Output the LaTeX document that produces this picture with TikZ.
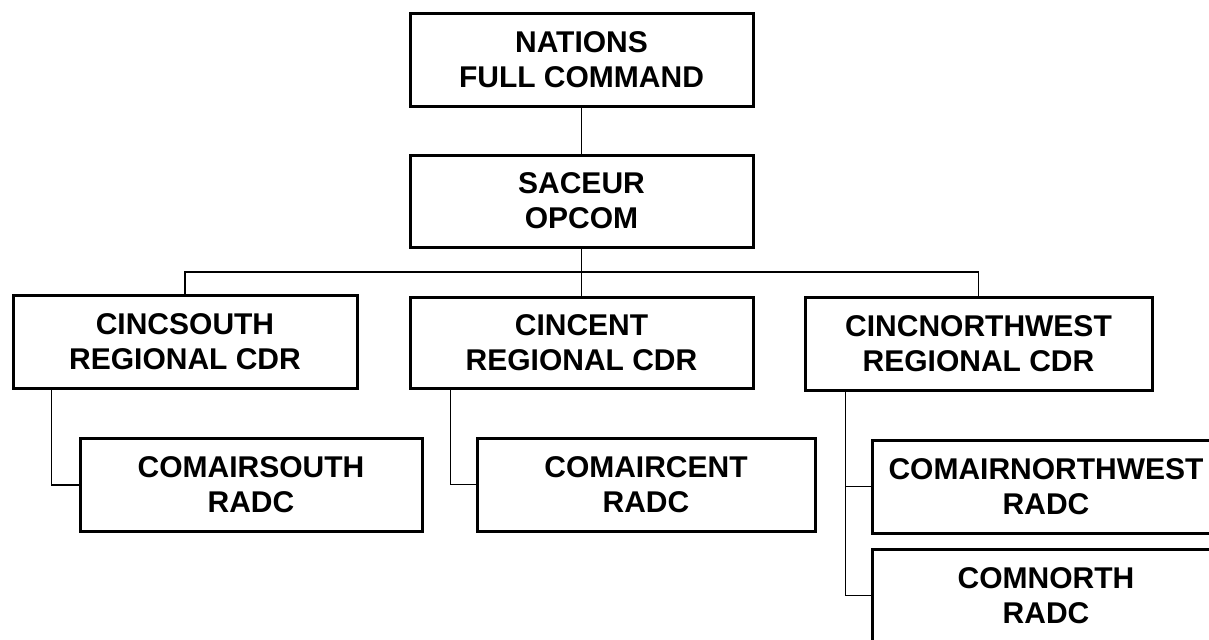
\documentclass[tikz,border=0pt]{standalone}
\usepackage{fontspec}
\setmainfont{Liberation Sans}
\begin{document}
\begin{tikzpicture}[x=0.5pt,y=-0.5pt,
  unit/.style={draw, line width=1.5pt, minimum height=46.5pt, align=center,
    inner sep=0pt, font=\fontsize{15pt}{17.5pt}\selectfont\bfseries},
  link/.style={line width=0.75pt}]
\fill[white] (0,0) rectangle (1209,639);
\useasboundingbox (0,0) rectangle (1209,639);
\clip (0,0) rectangle (1209,639);

% command levels
\node[unit, minimum width=171.5pt] (nat) at (581.5,60) {NATIONS\\FULL COMMAND};
\node[unit, minimum width=171.5pt, minimum height=46pt] (sac) at (581.5,201) {SACEUR\\OPCOM};

% regional commanders
\node[unit, minimum width=172pt] (cs) at (185,341.5) {CINCSOUTH\\REGIONAL CDR};
\node[unit, minimum width=171.5pt, minimum height=45.5pt] (cc) at (581.5,342.5) {CINCENT\\REGIONAL CDR};
\node[unit, minimum width=173.5pt] (cnw) at (978.5,343.5) {CINCNORTHWEST\\REGIONAL CDR};

% air defence commands
\node[unit, minimum width=171pt] (cas) at (251,485) {COMAIRSOUTH\\RADC};
\node[unit, minimum width=169pt] (cac) at (646,484.5) {COMAIRCENT\\RADC};
\node[unit, minimum width=174pt] (canw) at (1046,486.5) {COMAIRNORTHWEST\\RADC};
\node[unit, minimum width=174pt] (cn) at (1046,595.5) {COMNORTH\\RADC};

% connectors
\coordinate (bus) at (582,272);
\draw[link] (nat.south) -- (sac.north);
\draw[link] (sac.south) -- (cc.north);
\draw[link] (cs.north) |- (bus) -| (cnw.north);
\draw[link] ([xshift=20pt]cs.south west) |- (cas.west);
\draw[link] ([xshift=21pt]cc.south west) |- (cac.west);
\draw[link] ([xshift=21pt]cnw.south west) |- (canw.west);
\draw[link] ([xshift=21pt]cnw.south west) |- (cn.west);
\end{tikzpicture}
\end{document}
